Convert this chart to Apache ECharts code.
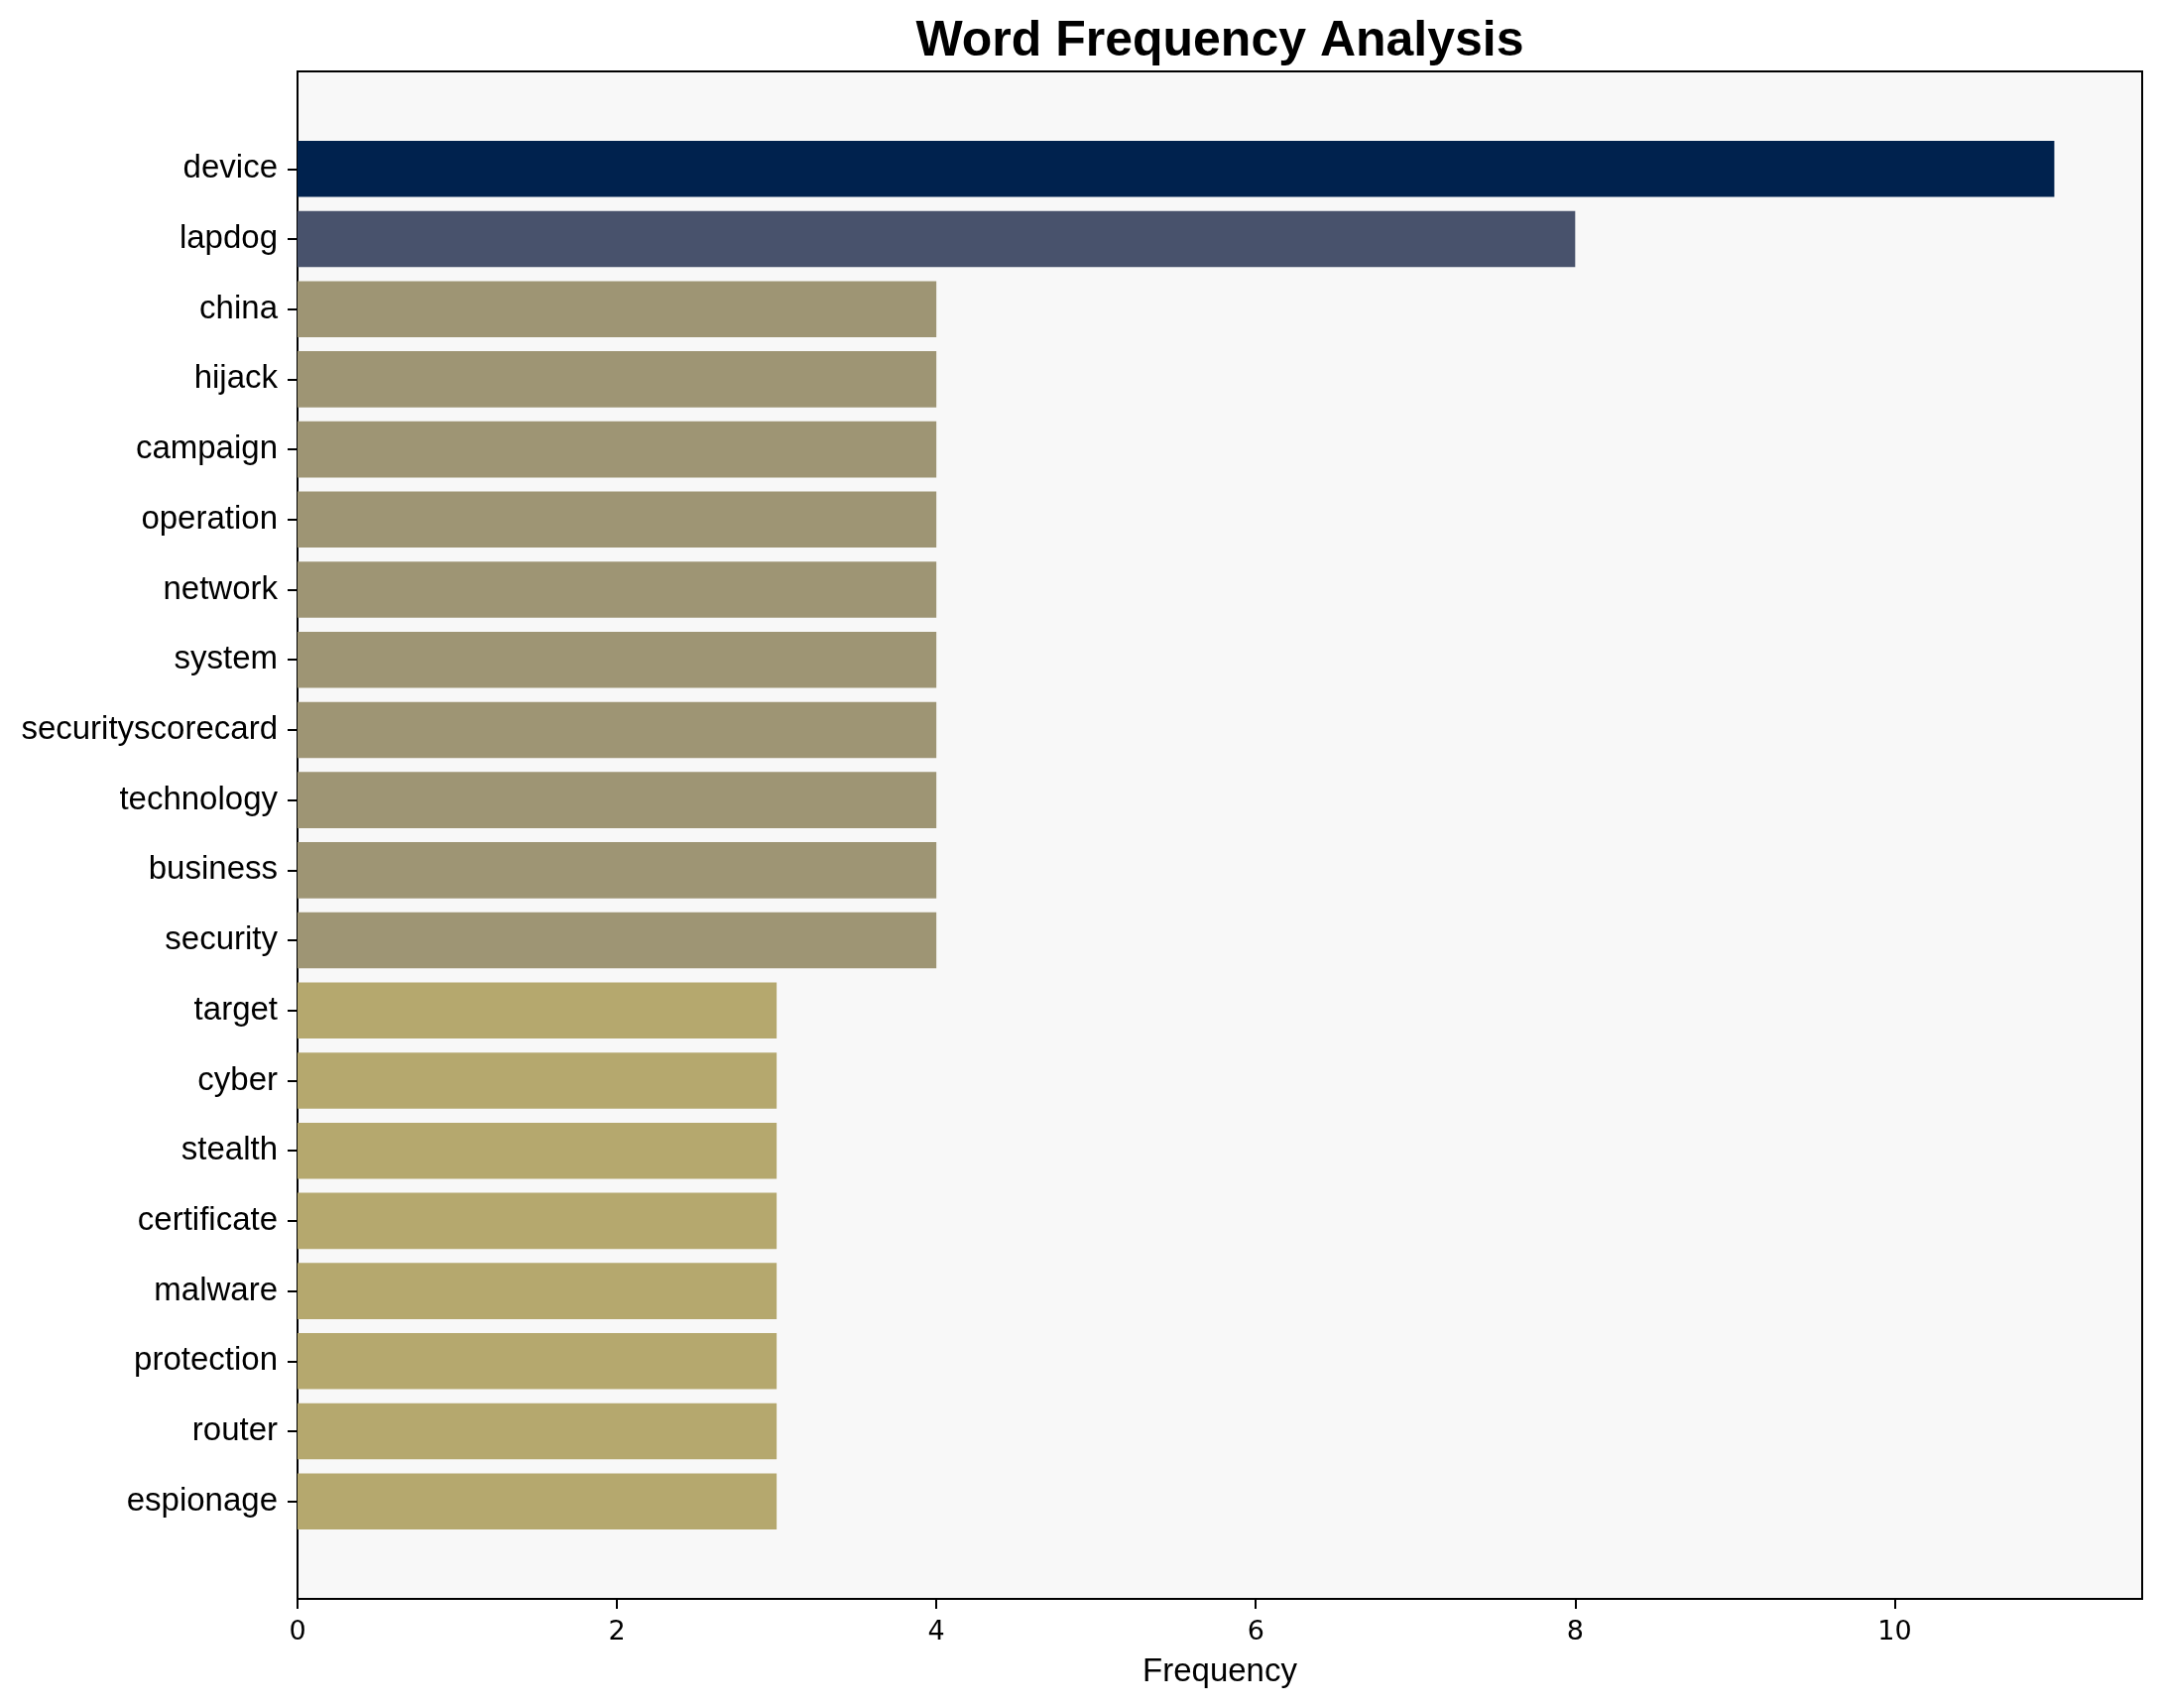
<!DOCTYPE html>
<html>
<head>
<meta charset="utf-8">
<script src="https://cdn.jsdelivr.net/npm/echarts@6/dist/echarts.min.js"></script>
<style>html,body{margin:0;padding:0;background:#fff}#c{width:2180px;height:1722px}</style>
</head>
<body>
<div id="c"></div>
<script>
const words = ["device","lapdog","china","hijack","campaign","operation","network","system","securityscorecard","technology","business","security","target","cyber","stealth","certificate","malware","protection","router","espionage"];
const frequencies = [11,8,4,4,4,4,4,4,4,4,4,4,3,3,3,3,3,3,3,3];
const xTicks = [0,2,4,6,8,10];
const xMax = 11.55;
const chartTitle = "Word Frequency Analysis";
const xName = "Frequency";

const palette = {11:'#00224E', 8:'#48526C', 4:'#9E9574', 3:'#B5A86E'};

const plotLeft = 300, plotTop = 72, plotW = 1860, plotH = 1540;
const span = (words.length - 1) + 0.8; // bar extent
const total = span * 1.1; // with 5% margins each side
const u = plotH / total;
const bandMargin = (total - words.length) / 2 * u;

const chart = echarts.init(document.getElementById('c'), null, {renderer: 'canvas'});
chart.setOption({
  backgroundColor: '#ffffff',
  animation: false,
  graphic: [{
    type: 'text', x: plotLeft + plotW / 2, y: 42,
    style: {text: chartTitle, font: 'bold 50px "Liberation Sans", Arial, sans-serif', fill: '#000', align: 'center', verticalAlign: 'middle'}
  }],
  grid: [
    {left: plotLeft, top: plotTop, width: plotW, height: plotH, show: true, backgroundColor: '#F8F8F8', borderColor: '#000', borderWidth: 2},
    {left: plotLeft, top: plotTop + bandMargin, width: plotW, height: words.length * u, show: false}
  ],
  xAxis: [
    {gridIndex: 0, type: 'value', min: 0, max: xMax, interval: 2,
     axisLine: {show: false}, splitLine: {show: false},
     axisTick: {show: true, length: 10, lineStyle: {color: '#000', width: 2}, customValues: xTicks},
     axisLabel: {margin: 20, color: '#000', fontFamily: '"DejaVu Sans", sans-serif', fontSize: 27, customValues: xTicks},
     name: xName, nameLocation: 'middle', nameGap: 57,
     nameTextStyle: {color: '#000', fontFamily: '"Liberation Sans", Arial, sans-serif', fontSize: 33}},
    {gridIndex: 1, type: 'value', min: 0, max: xMax, show: false, splitLine: {show: false}}
  ],
  yAxis: [
    {gridIndex: 0, type: 'value', show: false, splitLine: {show: false}},
    {gridIndex: 1, type: 'category', data: words, inverse: true,
     axisLine: {show: false}, splitLine: {show: false},
     axisTick: {show: true, alignWithLabel: true, length: 10, lineStyle: {color: '#000', width: 2}},
     axisLabel: {margin: 20, color: '#000', fontFamily: '"Liberation Sans", Arial, sans-serif', fontSize: 33, padding: [8, 0, 0, 0]}}
  ],
  series: [{
    type: 'bar', xAxisIndex: 1, yAxisIndex: 1,
    data: frequencies, barWidth: '80%',
    itemStyle: {color: p => palette[p.value] || '#9E9574'}
  }]
});
</script>
</body>
</html>
